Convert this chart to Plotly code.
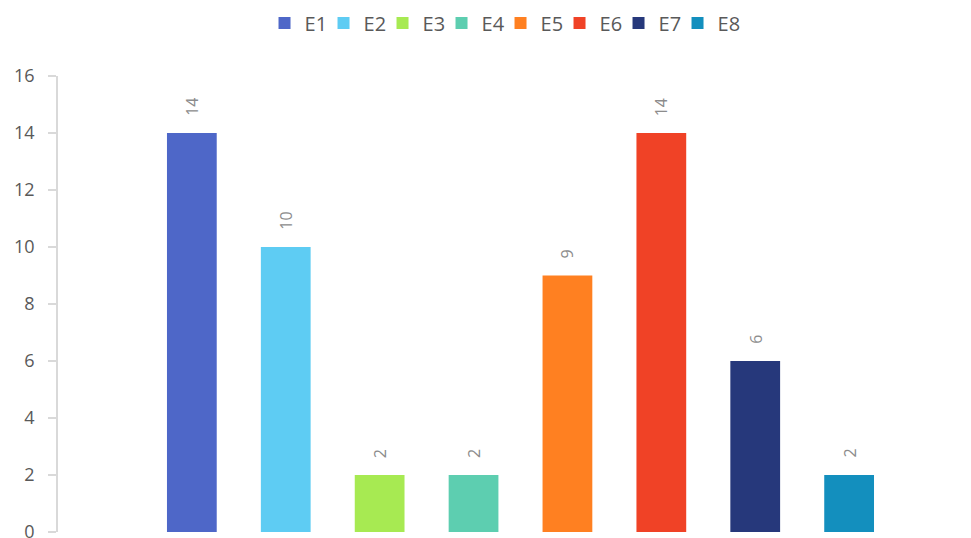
import plotly.graph_objects as go

# Series names, values and fill colours
series = ["E1", "E2", "E3", "E4", "E5", "E6", "E7", "E8"]
values = [14, 10, 2, 2, 9, 14, 6, 2]
colors = ["#4E67C8", "#5ECCF3", "#A7EA52", "#5DCEB0", "#FF8021",
          "#F04226", "#26387B", "#138FBE"]
y_ticks = [0, 2, 4, 6, 8, 10, 12, 14, 16]

positions = list(range(1, len(series) + 1))
FONT = "Open Sans, Lato, sans-serif"

fig = go.Figure()
for name, pos, val, col in zip(series, positions, values, colors):
    fig.add_trace(go.Bar(
        x=[pos], y=[val], name=name, width=0.53,
        marker=dict(color=col, line=dict(width=0)),
        hoverinfo="skip",
    ))
    # rotated value label above each bar
    fig.add_annotation(
        x=pos, y=val, text=str(val), showarrow=False,
        textangle=-90, yanchor="bottom", xanchor="center", yshift=15,
        font=dict(family=FONT, size=16, color="#8C8C8C"),
    )

# empty trailing legend slot so the last label is not clipped by the
# narrow fixed entry width
fig.add_trace(go.Bar(
    x=[None], y=[None], name=" ",
    marker=dict(color="rgba(0,0,0,0)",
                line=dict(width=0, color="rgba(0,0,0,0)")),
    hoverinfo="skip",
))

fig.update_layout(
    width=971, height=538,
    margin=dict(l=58, r=0, t=76, b=6, autoexpand=False),
    paper_bgcolor="white", plot_bgcolor="white",
    barmode="overlay", showlegend=True,
    font=dict(family=FONT, size=18, color="#595959"),
    legend=dict(
        orientation="h", x=0.517, xanchor="center",
        y=1 - 23 / 538, yanchor="middle", yref="container",
        font=dict(family=FONT, size=20, color="#595959"),
        entrywidth=14, entrywidthmode="pixels",
        itemclick=False, traceorder="normal",
    ),
    xaxis=dict(
        range=[-0.4255, 9.298], showticklabels=False, showgrid=False,
        zeroline=False, showline=False, ticks="", automargin=False,
    ),
    yaxis=dict(
        range=[0, 16], tickvals=y_ticks, showgrid=False, zeroline=False,
        showline=True, linecolor="#D9D9D9", linewidth=1.5,
        ticks="outside", ticklen=8, tickcolor="#D9D9D9", tickwidth=1.5,
        ticklabelstandoff=10, ticklabeloverflow="allow", automargin=False,
    ),
)

fig.write_html("out.html")
